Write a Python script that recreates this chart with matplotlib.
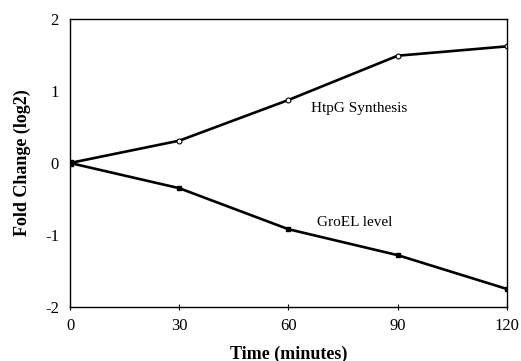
import matplotlib
matplotlib.use("Agg")
from matplotlib import pyplot as plt

time_min = [0, 30, 60, 90, 120]
htpg_synthesis = [0.0, 0.31, 0.875, 1.49, 1.62]
groel_level = [0.0, -0.35, -0.92, -1.28, -1.75]

x_ticks = [0, 30, 60, 90, 120]
y_ticks = [-2, -1, 0, 1, 2]

plt.rcParams['font.family'] = ['Liberation Serif', 'DejaVu Serif']
plt.rcParams['axes.unicode_minus'] = False

fig = plt.figure(figsize=(5.21, 3.61), dpi=100)
ax = fig.add_axes([0.1344, 0.1496, 0.8386, 0.7978])

ax.plot(time_min, groel_level, color='black', lw=1.9, marker='s', ms=3.5,
        mfc='black', mec='black')
ax.plot(time_min, htpg_synthesis, color='black', lw=1.9, marker='o', ms=3.5,
        mfc='white', mec='black', mew=0.8)
ax.plot([0], [0], marker='s', ms=4.5, color='black')

ax.text(66.2, 0.75, 'HtpG Synthesis', fontsize=11, va='center')
ax.text(67.8, -0.83, 'GroEL level', fontsize=11, va='center')

ax.set_xlim(0, 120)
ax.set_ylim(-2, 2)
ax.set_xticks(x_ticks)
ax.set_yticks(y_ticks)
ax.tick_params(axis='x', direction='inout', length=4, width=0.8, labelsize=12, pad=6)
ax.tick_params(axis='y', length=0, labelsize=12, pad=8)
for sp in ax.spines.values():
    sp.set_linewidth(1.0)

ax.set_xlabel('Time (minutes)', fontsize=13, fontweight='bold', labelpad=8)
ax.set_ylabel('Fold Change (log2)', fontsize=13, fontweight='bold', labelpad=10)

fig.savefig('out.png', dpi=100)
